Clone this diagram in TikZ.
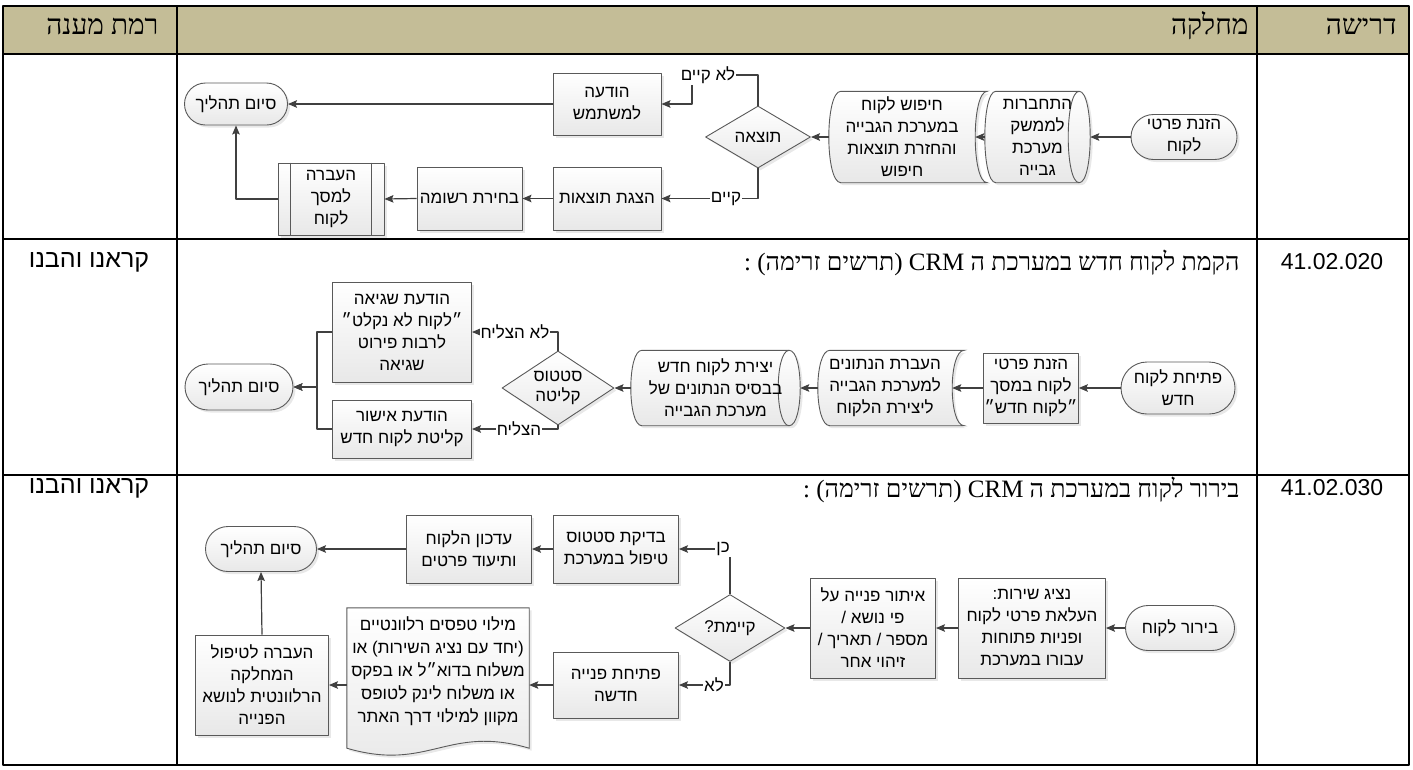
\documentclass[tikz,border=0pt]{standalone}
\usepackage{fontspec}
\usetikzlibrary{shapes.geometric,shapes.misc,shadows,backgrounds,arrows.meta}
\newfontfamily\hebsans[Script=Hebrew]{Liberation Sans}
\newfontfamily\hebserif[Script=Hebrew]{Liberation Serif}
\TeXXeTstate=1
\newcommand\heb[1]{\beginR #1\endR}
\newcommand\flowfont{\hebsans\fontsize{17}{22}\selectfont}
\newcommand\rowtitlefont{\hebserif\fontsize{25}{28}\selectfont}
\newcommand\headerfont{\hebserif\fontsize{28}{30}\selectfont}
\newcommand\cellfont{\hebsans\fontsize{25}{28}\selectfont}
\definecolor{headtan}{RGB}{196,189,151}
\definecolor{boxline}{RGB}{89,89,89}
\definecolor{boxshade}{RGB}{232,232,232}
\definecolor{wirecol}{RGB}{64,64,64}
% outlines drawn round bare nodes
\newcommand{\storedpath}[1]{%
  \path[shapefill] ([xshift=12pt]#1.north west) -- ([xshift=12pt]#1.north east)
    .. controls ([xshift=-4pt]#1.north east) and ([xshift=-4pt]#1.south east) .. ([xshift=12pt]#1.south east)
    -- ([xshift=12pt]#1.south west)
    .. controls ([xshift=-4pt]#1.south west) and ([xshift=-4pt]#1.north west) .. ([xshift=12pt]#1.north west) -- cycle;}
\newcommand{\drumpath}[1]{%
  \path[shapefill] ([xshift=11pt]#1.north west) -- ([xshift=-11pt]#1.north east)
    .. controls ([xshift=3.67pt]#1.north east) and ([xshift=3.67pt]#1.south east) .. ([xshift=-11pt]#1.south east)
    -- ([xshift=11pt]#1.south west)
    .. controls ([xshift=-3.67pt]#1.south west) and ([xshift=-3.67pt]#1.north west) .. ([xshift=11pt]#1.north west) -- cycle;
  \draw[draw=boxline, line width=0.9pt] ([xshift=-11pt]#1.north east)
    .. controls ([xshift=-25.67pt]#1.north east) and ([xshift=-25.67pt]#1.south east) .. ([xshift=-11pt]#1.south east);}
\newcommand{\docpath}[1]{%
  \path[shapefill] (#1.north west) -- (#1.north east) -- ([yshift=-14pt]#1.south east)
    .. controls ([xshift=-82pt,yshift=10pt]#1.south east) and ([xshift=82pt,yshift=-38pt]#1.south west) .. ([yshift=-14pt]#1.south west) -- cycle;}
\tikzset{
  gridline/.style={draw=black, line width=1.6pt},
  shapefill/.style={draw=boxline, line width=0.9pt, top color=white, bottom color=boxshade,
    drop shadow={shadow xshift=2.5pt, shadow yshift=-2.5pt, fill=black!18}},
  flowbox/.style={rectangle, shapefill, align=center, font=\flowfont, inner sep=1pt},
  terminal/.style={rounded rectangle, shapefill, align=center, font=\flowfont, inner sep=1pt},
  decision/.style={diamond, shapefill, align=center, font=\flowfont, inner sep=0pt, aspect=1.6},
  bare/.style={rectangle, align=center, font=\flowfont, inner sep=0pt},
  wire/.style={draw=wirecol, line width=1.2pt, ->},
  edgelabel/.style={fill=white, inner sep=1pt, font=\flowfont},
}
\begin{document}
\begin{tikzpicture}[x=1pt, y=-1pt, line join=round, >={Stealth[length=9pt,width=7.5pt,inset=1.5pt]}]
\useasboundingbox (0,0) rectangle (1413,769);
% table
\fill[headtan] (3,6) rectangle (1409,54);
\foreach \y in {54,239,475} \draw[gridline] (3,\y) -- (1409,\y);
\foreach \x in {177,1257} \draw[gridline] (\x,6) -- (\x,765);
\draw[gridline] (3,6) rectangle (1409,765);
\node[anchor=east, font=\headerfont] (hreq) at (1400,26) {\heb{דרישה}};
\node[anchor=east, font=\headerfont] (hdept) at (1252,26) {\heb{מחלקה}};
\node[anchor=east, font=\headerfont] (hlevel) at (162,26) {\heb{רמת מענה}};
\foreach \y/\num [count=\i] in {262/41.02.020, 488/41.02.030}
  \node[font=\hebsans\fontsize{23}{26}\selectfont] (req\i) at (1332,\y) {\num};
\foreach \y [count=\i] in {262,488}
  \node[font=\cellfont] (ans\i) at (89,\y) {\heb{קראנו והבנו}};
\node[anchor=east, font=\rowtitlefont] (title2) at (1243,263) {\heb{הקמת לקוח חדש במערכת ה CRM (תרשים זרימה) :}};
\node[anchor=east, font=\rowtitlefont] (title3) at (1243,490) {\heb{בירור לקוח במערכת ה CRM (תרשים זרימה) :}};

% row 1
\node[terminal, minimum width=108pt, minimum height=45pt] (start1) at (1184,137) {\heb{הזנת פרטי}\\\heb{לקוח}};
\node[bare, minimum width=105pt, minimum height=91pt] (conn1) at (1037.5,137) {\heb{התחברות}\\\heb{לממשק}\\\heb{מערכת}\\\heb{גבייה}};
\node[bare, minimum width=146pt, minimum height=91pt] (search1) at (902,137) {\heb{חיפוש לקוח}\\\heb{במערכת הגבייה}\\\heb{והחזרת תוצאות}\\\heb{חיפוש}};
\node[decision, minimum width=105pt, minimum height=62pt] (dec1) at (758,137) {\heb{תוצאה}};
\node[flowbox, minimum width=108pt, minimum height=62pt] (msg1) at (607,104) {\heb{הודעה}\\\heb{למשתמש}};
\node[terminal, minimum width=105pt, minimum height=42pt] (end1) at (236,104) {\heb{סיום תהליך}};
\node[flowbox, minimum width=108pt, minimum height=63pt] (show1) at (607,198.5) {\heb{הצגת תוצאות}};
\node[flowbox, minimum width=105pt, minimum height=63pt] (pick1) at (469.5,198.5) {\heb{בחירת רשומה}};
\node[flowbox, minimum width=106pt, minimum height=72pt] (move1) at (331,199) {\heb{העברה}\\\heb{למסך}\\\heb{לקוח}};
\draw[draw=boxline, line width=0.9pt] ([xshift=13pt]move1.north west) -- ([xshift=13pt]move1.south west);
\draw[draw=boxline, line width=0.9pt] ([xshift=-13pt]move1.north east) -- ([xshift=-13pt]move1.south east);
\coordinate (nobend1) at (692,75);
\draw[wire] (start1.west) -- (conn1.east);
\draw[wire] (conn1.west) -- (search1.east);
\draw[wire] (search1.west) -- (dec1.east);
\draw[wire] (dec1.north) |- (nobend1) |- (msg1.east);
\draw[wire] (dec1.south) |- (show1.east);
\draw[wire] (msg1.west) -- (end1.east);
\draw[wire] (show1.west) -- (pick1.east);
\draw[wire] (pick1.west) -- (move1.east);
\draw[wire] (move1.west) -| (end1.south);
\node[edgelabel] (nolabel1) at (708,75) {\heb{לא קיים}};
\node[edgelabel] (yeslabel1) at (726,198.5) {\heb{קיים}};

% row 2
\node[terminal, minimum width=116pt, minimum height=52pt] (start2) at (1178,388) {\heb{פתיחת לקוח}\\\heb{חדש}};
\node[flowbox, minimum width=94pt, minimum height=70pt] (enter2) at (1031,388) {\heb{הזנת פרטי}\\\heb{לקוח במסך}\\\heb{״לקוח חדש״}};
\node[bare, minimum width=134pt, minimum height=75pt] (transfer2) at (885,388) {\heb{העברת הנתונים}\\\heb{למערכת הגבייה}\\\heb{ליצירת הלקוח}};
\node[bare, minimum width=169pt, minimum height=75pt] (create2) at (715.5,388) {\heb{יצירת לקוח חדש}\\\heb{בבסיס הנתונים של}\\\heb{מערכת הגבייה}};
\node[decision, minimum width=112pt, minimum height=74pt, font=\hebsans\fontsize{17}{20}\selectfont] (dec2) at (558,388) {\heb{סטטוס}\\\heb{קליטה}};
\node[flowbox, minimum width=139pt, minimum height=100pt] (err2) at (402,332) {\heb{הודעת שגיאה}\\\heb{״לקוח לא נקלט״}\\\heb{לרבות פירוט}\\\heb{שגיאה}};
\node[flowbox, minimum width=139pt, minimum height=58pt] (ok2) at (402,429) {\heb{הודעת אישור}\\\heb{קליטת לקוח חדש}};
\node[terminal, minimum width=110pt, minimum height=46pt] (end2) at (239,387) {\heb{סיום תהליך}};
\coordinate (join2) at (317,387);
\draw[wire] (start2.west) -- (enter2.east);
\draw[wire] (enter2.west) -- (transfer2.east);
\draw[wire] (transfer2.west) -- (create2.east);
\draw[wire] (create2.west) -- (dec2.east);
\draw[wire] (dec2.north) |- (err2.east);
\draw[wire] (dec2.south) |- (ok2.east);
\draw[wire] (err2.west) -| (join2) -- (end2.east);
\draw[wire] (ok2.west) -| (join2) -- (end2.east);
\node[edgelabel] (faillabel2) at (515,332) {\heb{לא הצליח}};
\node[edgelabel] (oklabel2) at (519,429) {\heb{הצליח}};

% row 3
\node[terminal, minimum width=111pt, minimum height=45pt] (start3) at (1180,628) {\heb{בירור לקוח}};
\node[flowbox, minimum width=147pt, minimum height=100pt] (svc3) at (1032,628) {\heb{נציג שירות:}\\\heb{העלאת פרטי לקוח}\\\heb{ופניות פתוחות}\\\heb{עבורו במערכת}};
\node[flowbox, minimum width=125pt, minimum height=100pt] (loc3) at (873,628) {\heb{איתור פנייה על}\\\heb{פי נושא /}\\\heb{מספר / תאריך /}\\\heb{זיהוי אחר}};
\node[decision, minimum width=110pt, minimum height=67pt] (dec3) at (730,628) {\heb{קיימת?}};
\node[flowbox, minimum width=125pt, minimum height=68pt] (chk3) at (616,549) {\heb{בדיקת סטטוס}\\\heb{טיפול במערכת}};
\node[flowbox, minimum width=125pt, minimum height=68pt] (upd3) at (469,549) {\heb{עדכון הלקוח}\\\heb{ותיעוד פרטים}};
\node[terminal, minimum width=113pt, minimum height=45pt] (end3) at (261,549) {\heb{סיום תהליך}};
\node[flowbox, minimum width=125pt, minimum height=66pt] (new3) at (616,685) {\heb{פתיחת פנייה}\\\heb{חדשה}};
\node[bare, minimum width=182pt, minimum height=126pt, font=\hebsans\fontsize{17}{23}\selectfont] (doc3) at (438,671) {\heb{מילוי טפסים רלוונטיים}\\\heb{(יחד עם נציג השירות) או}\\\heb{משלוח בדוא״ל או בפקס}\\\heb{או משלוח לינק לטופס}\\\heb{מקוון למילוי דרך האתר}};
\node[flowbox, minimum width=133pt, minimum height=100pt] (fwd3) at (262,685) {\heb{העברה לטיפול}\\\heb{המחלקה}\\\heb{הרלוונטית לנושא}\\\heb{הפנייה}};
\draw[wire] (start3.west) -- (svc3.east);
\draw[wire] (svc3.west) -- (loc3.east);
\draw[wire] (loc3.west) -- (dec3.east);
\draw[wire] (dec3.north) |- (chk3.east);
\draw[wire] (dec3.south) |- (new3.east);
\draw[wire] (chk3.west) -- (upd3.east);
\draw[wire] (upd3.west) -- (end3.east);
\draw[wire] (new3.west) -- (new3.west -| doc3.east);
\draw[wire] (fwd3.east -| doc3.west) -- (fwd3.east);
\draw[wire] (fwd3.north) -- (end3.south);
\node[edgelabel] (yeslabel3) at (723,549) {\heb{כן}};
\node[edgelabel] (nolabel3) at (714,685) {\heb{לא}};

% outlines of the special shapes
\begin{scope}[on background layer]
  \drumpath{conn1}
  \storedpath{search1}
  \storedpath{transfer2}
  \drumpath{create2}
  \docpath{doc3}
\end{scope}
\end{tikzpicture}
\end{document}
